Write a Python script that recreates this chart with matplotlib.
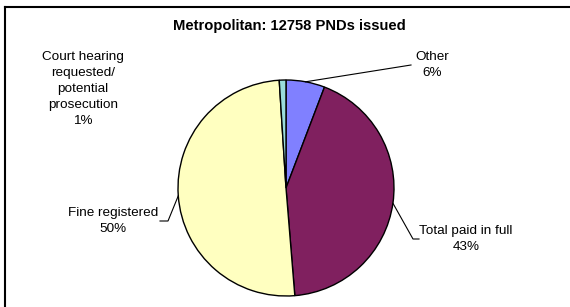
import numpy as np
import matplotlib
matplotlib.use("Agg")
import matplotlib.pyplot as plt

plt.rcParams['font.family'] = ['Liberation Sans', 'DejaVu Sans']

title = "Metropolitan: 12758 PNDs issued"
categories = ["Other", "Total paid in full", "Fine registered",
              "Court hearing\nrequested/\npotential\nprosecution"]
shares = [5.8, 42.9, 50.3, 1.0]          # percent
pct_labels = ["6%", "43%", "50%", "1%"]
colors = ["#8080FF", "#80205F", "#FFFFC0", "#99DCDC"]

W, H = 570, 307
fig = plt.figure(figsize=(W / 100, H / 100), dpi=100)
ax = fig.add_axes([0, 0, 1, 1])

# pie laid out in pixel space (y measured from the bottom)
cx, cy, r = 286, H - 188, 108
wedges, _ = ax.pie(shares, colors=colors, startangle=90, counterclock=False,
                   center=(cx, cy), radius=r, frame=True,
                   wedgeprops=dict(edgecolor='black', linewidth=1.0))
ax.set_xlim(0, W)
ax.set_ylim(0, H)
ax.set_aspect('equal')
ax.axis('off')

# chart border: only top and left edges are visible in the crop
ax.plot([5, W], [H - 7, H - 7], color='black', lw=1.5, clip_on=False)
ax.plot([5, 5], [H - 7, 0], color='black', lw=1.5, clip_on=False)

ax.text(289, H - 26, title, ha='center', va='center', fontsize=10.6,
        fontweight='bold')

# label text centres and leader elbows (pixel coords, y from top)
label_pos = [(432, 65), (466, 239), (113, 221), (83, 89)]
leaders = [[(411, 65)], [(413, 239), (419, 239)], [(168, 221), (160, 221)], None]

for w, name, pct, (lx, ly), lead in zip(wedges, categories, pct_labels,
                                        label_pos, leaders):
    ax.text(lx, H - ly, name + "\n" + pct, ha='center', va='center',
            fontsize=9.7, linespacing=1.42)
    if lead is None:
        continue
    mid = np.deg2rad((w.theta1 + w.theta2) / 2)
    xs = [cx + r * np.cos(mid)] + [p[0] for p in lead]
    ys = [cy + r * np.sin(mid)] + [H - p[1] for p in lead]
    ax.plot(xs, ys, color='black', lw=0.8)

plt.savefig('out.png', dpi=100)
